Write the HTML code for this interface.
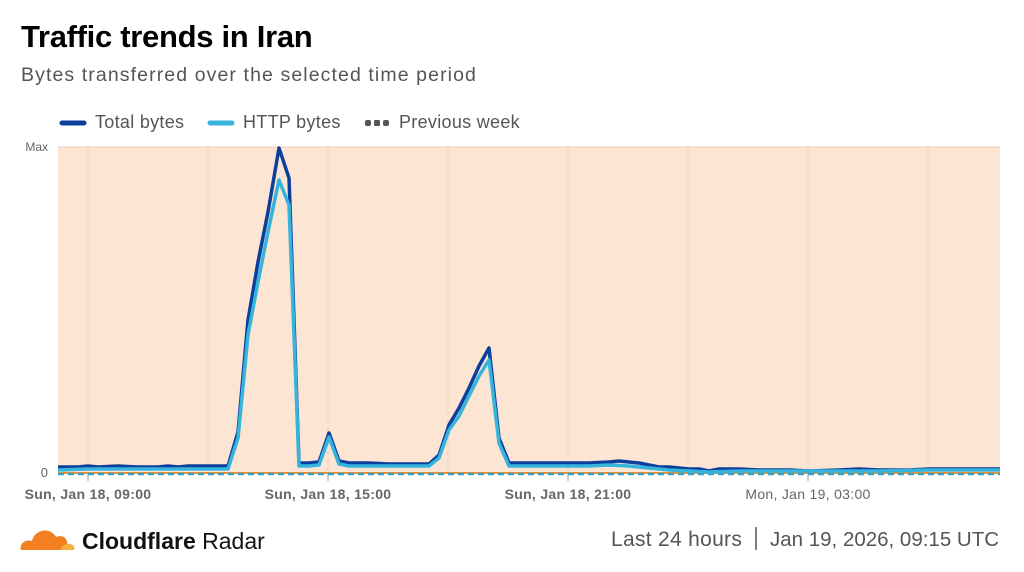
<!DOCTYPE html>
<html><head><meta charset="utf-8"><style>
body{margin:0;width:1024px;height:572px;background:#fff;font-family:"Liberation Sans",sans-serif;overflow:hidden;position:relative}
.t{position:absolute;left:21px;top:19px;font-size:31px;font-weight:bold;color:#000;letter-spacing:-0.3px}
.s{position:absolute;left:21px;top:64px;font-size:19.5px;color:#555;letter-spacing:1.1px}
.lg{position:absolute;top:112px;font-size:18px;color:#555;letter-spacing:0.3px}
svg{position:absolute;left:0;top:0}
.ft{position:absolute;top:528px;font-size:21px;color:#555}
</style></head><body>
<div class="t">Traffic trends in Iran</div>
<div class="s">Bytes transferred over the selected time period</div>
<div class="lg" style="left:95px">Total bytes</div>
<div class="lg" style="left:243px">HTTP bytes</div>
<div class="lg" style="left:399px">Previous week</div>
<svg width="1024" height="572">
<line x1="62" y1="123" x2="84" y2="123" stroke="#0a3f9c" stroke-width="5" stroke-linecap="round"/>
<line x1="210" y1="123" x2="232" y2="123" stroke="#36b4dc" stroke-width="5" stroke-linecap="round"/>
<g fill="#555"><rect x="365" y="120" width="6" height="6" rx="2"/><rect x="374" y="120" width="6" height="6" rx="1"/><rect x="383" y="120" width="6" height="6" rx="2"/></g>
<rect x="58" y="147" width="942" height="326" fill="#fde5d3"/>
<line x1="58" y1="147" x2="1000" y2="147" stroke="#f0c9b0" stroke-width="1"/>
<g stroke="#e8bfae" stroke-dasharray="4,4" stroke-width="1">
<line x1="88" y1="147" x2="88" y2="473"/><line x1="208" y1="147" x2="208" y2="473"/><line x1="328" y1="147" x2="328" y2="473"/><line x1="448" y1="147" x2="448" y2="473"/><line x1="568" y1="147" x2="568" y2="473"/><line x1="688" y1="147" x2="688" y2="473"/><line x1="808" y1="147" x2="808" y2="473"/><line x1="928" y1="147" x2="928" y2="473"/></g>
<g stroke="#999" stroke-width="1"><line x1="88" y1="474" x2="88" y2="481"/><line x1="328" y1="474" x2="328" y2="481"/><line x1="568" y1="474" x2="568" y2="481"/><line x1="808" y1="474" x2="808" y2="481"/></g>
<line x1="58" y1="473" x2="1000" y2="473" stroke="#f0902a" stroke-width="2"/>
<line x1="58" y1="474" x2="1000" y2="474" stroke="#36a0c8" stroke-width="2.5" stroke-dasharray="6,4"/>
<polyline fill="none" stroke="#0a3f9c" stroke-width="3.5" stroke-linejoin="round" points="58,467 78,467 88,466 98,467 118,466 138,467 158,467 168,466 178,467 188,466 208,466 228,466 238,432 248,320 258,262 268,212 279,148 289,178 299,463 309,463 319,462 329,433 339,461 349,463 369,463 389,464 409,464 429,464 439,455 449,425 459,408 469,388 479,366 489,348 499,438 509,463 529,463 549,463 569,463 589,463 609,462 619,461 629,462 639,463 649,465 659,467 669,467 689,469 699,469 709,471 719,469 739,469 759,470 789,470 809,471 839,470 859,469 879,470 909,470 929,469 959,469 979,469 1000,469"/>
<polyline fill="none" stroke="#36b4dc" stroke-width="3.5" stroke-linejoin="round" points="58,470 88,469 118,469 158,469 208,469 228,469 238,438 248,335 258,282 268,232 279,180 289,205 299,466 309,466 319,465 329,437 339,464 349,466 369,466 409,466 429,466 439,458 449,430 459,416 469,396 479,376 489,360 499,443 509,466 549,466 589,466 609,465 629,466 649,468 669,470 709,472 739,471 789,471 839,471 879,471 929,470 979,470 1000,470"/>
<text x="48" y="151" font-size="12" fill="#666" text-anchor="end" font-family="Liberation Sans">Max</text>
<text x="48" y="477" font-size="13" fill="#666" text-anchor="end" font-family="Liberation Sans">0</text>
<g font-size="14" fill="#666" text-anchor="middle" font-family="Liberation Sans" letter-spacing="0.3">
<text x="88" y="499" font-weight="bold">Sun, Jan 18, 09:00</text>
<text x="328" y="499" font-weight="bold">Sun, Jan 18, 15:00</text>
<text x="568" y="499" font-weight="bold">Sun, Jan 18, 21:00</text>
<text x="808" y="499">Mon, Jan 19, 03:00</text></g>
<g transform="translate(20,524)">
<path d="M1,26 C-1,20 5,15 12,17 C14,6 30,2 36,13 C43,10 48,15 47,20 C51,19 54,22 54,26 Z" fill="#f38020"/>
<path d="M40,26 C42,20 48,19 52,21 C54,21 55,23 54,26 Z" fill="#faae40"/>
</g>
<text x="82" y="549" font-size="23" font-family="Liberation Sans" fill="#111"><tspan font-weight="bold">Cloudflare</tspan> Radar</text>
<line x1="756" y1="527" x2="756" y2="550" stroke="#555" stroke-width="1.5"/>
</svg>
<div class="ft" style="left:611px;letter-spacing:0.3px">Last 24 hours</div>
<div class="ft" style="left:770px;font-size:20.5px">Jan 19, 2026, 09:15 UTC</div>
</body></html>
